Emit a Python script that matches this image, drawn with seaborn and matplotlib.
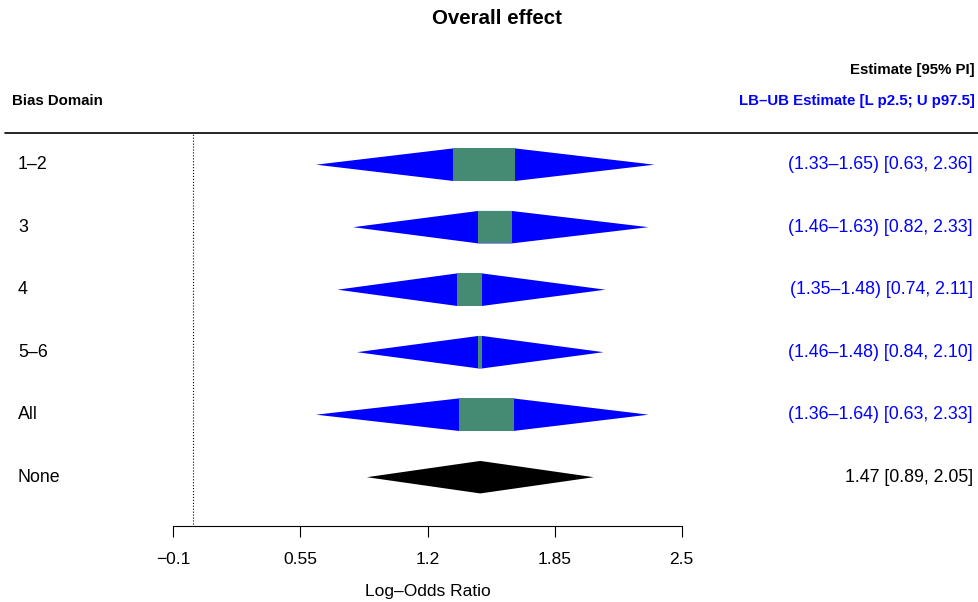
import matplotlib
matplotlib.use("Agg")
import matplotlib.pyplot as plt
import matplotlib.transforms as mtransforms
from matplotlib.lines import Line2D
from matplotlib.patches import Polygon, Rectangle
import seaborn as sns

# ---- data ----
row_labels = ["1–2", "3", "4", "5–6", "All", "None"]
lb = [1.33, 1.46, 1.35, 1.46, 1.36]
ub = [1.65, 1.63, 1.48, 1.48, 1.64]
lo = [0.63, 0.82, 0.74, 0.84, 0.63]
hi = [2.36, 2.33, 2.11, 2.10, 2.33]
none_est = 1.47
none_lo = 0.89
none_hi = 2.05
tick_vals = [-0.1, 0.55, 1.2, 1.85, 2.5]
tick_labels = ["−0.1", "0.55", "1.2", "1.85", "2.5"]

sns.set_theme(style="white")
plt.rcParams["font.family"] = ["Liberation Sans", "DejaVu Sans"]
plt.rcParams["text.color"] = "black"
plt.rcParams["axes.labelcolor"] = "black"
plt.rcParams["xtick.color"] = "black"

W, H = 979, 602
fig = plt.figure(figsize=(W / 100, H / 100), dpi=100)
ax_left, ax_right, ax_top, ax_bot = 173.3, 681.7, 133, 526
ax = fig.add_axes([ax_left / W, (H - ax_bot) / H, (ax_right - ax_left) / W, (ax_bot - ax_top) / H])
ax.set_xlim(-0.1, 2.5)
ax.set_ylim(5.781, -0.507)

blue = "#0000FF"
green = "#458B74"
h = 0.26

for i in range(len(lb)):
    y = i
    poly = Polygon([(lo[i], y), (lb[i], y - h), (ub[i], y - h), (hi[i], y),
                    (ub[i], y + h), (lb[i], y + h)], closed=True,
                   facecolor=blue, edgecolor="none")
    ax.add_patch(poly)
    ax.add_patch(Rectangle((lb[i], y - h), ub[i] - lb[i], 2 * h,
                           facecolor=green, edgecolor="none"))

yn = len(lb)
ax.add_patch(Polygon([(none_lo, yn), (none_est, yn - h), (none_hi, yn), (none_est, yn + h)],
                     closed=True, facecolor="black", edgecolor="none"))

ax.axvline(0, ymin=0.005, ymax=1.0, color="black", linestyle=":", linewidth=0.8)

ax.set_xticks(tick_vals)
ax.set_xticklabels(tick_labels, fontsize=12.5)
ax.set_yticks([])
ax.tick_params(axis="x", direction="out", length=8, width=0.8, pad=10.5, bottom=True, colors="black")
ax.set_xlabel("Log–Odds Ratio", fontsize=12.5, labelpad=12.5)
sns.despine(ax=ax, left=True, top=True, right=True)
ax.spines["bottom"].set_color("black")
ax.spines["bottom"].set_linewidth(0.8)

trans = mtransforms.blended_transform_factory(fig.transFigure, ax.transData)
for i, lab in enumerate(row_labels):
    ax.text(18 / W, i, lab, transform=trans, ha="left", va="center", fontsize=12.8, clip_on=False)

for i in range(len(lb)):
    s = f"({lb[i]:.2f}–{ub[i]:.2f}) [{lo[i]:.2f}, {hi[i]:.2f}]"
    ax.text(973 / W, i, s, transform=trans, ha="right", va="center", fontsize=12.8,
            color=blue, clip_on=False)
ax.text(973 / W, yn, f"{none_est:.2f} [{none_lo:.2f}, {none_hi:.2f}]", transform=trans,
        ha="right", va="center", fontsize=12.8, color="black", clip_on=False)

fig.text(497 / W, 1 - 19 / H, "Overall effect", ha="center", va="center", fontsize=14.8, fontweight="bold")
fig.text(12 / W, 1 - 101 / H, "Bias Domain", ha="left", va="center", fontsize=10.8, fontweight="bold")
fig.text(975 / W, 1 - 70 / H, "Estimate [95% PI]", ha="right", va="center", fontsize=10.8, fontweight="bold")
fig.text(975 / W, 1 - 101 / H, "LB–UB Estimate [L p2.5; U p97.5]", ha="right", va="center",
         fontsize=10.8, fontweight="bold", color=blue)
fig.add_artist(Line2D([5 / W, 1.0], [1 - 133 / H, 1 - 133 / H], transform=fig.transFigure,
                      color="black", linewidth=1.2))

fig.savefig("out.png", dpi=100)
